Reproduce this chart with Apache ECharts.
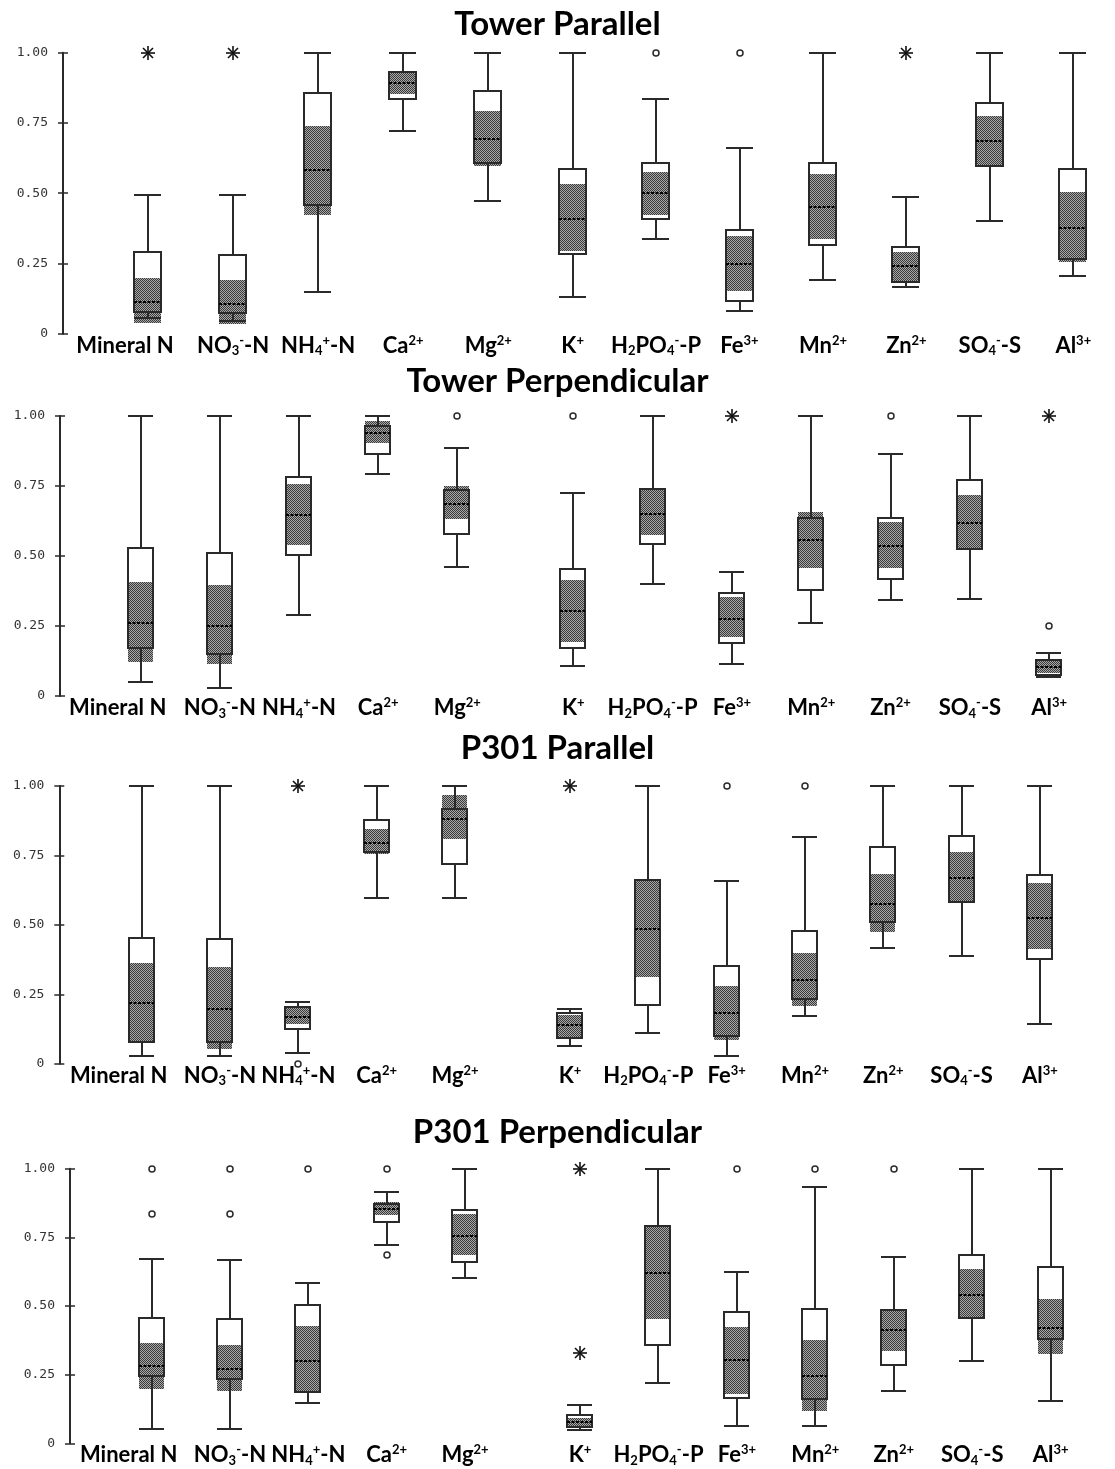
<!DOCTYPE html>
<html>
<head>
<meta charset="utf-8">
<script src="https://cdn.jsdelivr.net/npm/echarts@6/dist/echarts.min.js"></script>
<style>
  html, body { margin: 0; padding: 0; background: #fff; }
  #chart { width: 1115px; height: 1469px; }
</style>
</head>
<body>
<div id="chart"></div>
<script>
// Nutrient categories (plain names) and their rich-text labels
const categories = ['Mineral N', 'NO3-N', 'NH4-N', 'Ca', 'Mg', 'K', 'H2PO4-P', 'Fe', 'Mn', 'Zn', 'SO4-S', 'Al'];
const categoryLabels = [
  'Mineral N', 'NO{sub|3}{sup|-}-N', 'NH{sub|4}{sup|+}-N', 'Ca{sup|2+}', 'Mg{sup|2+}', 'K{sup|+}',
  'H{sub|2}PO{sub|4}{sup|-}-P', 'Fe{sup|3+}', 'Mn{sup|2+}', 'Zn{sup|2+}', 'SO{sub|4}{sup|-}-S', 'Al{sup|3+}'
];
const panelTitles = ['Tower Parallel', 'Tower Perpendicular', 'P301 Parallel', 'P301 Perpendicular'];
const yTickValues = [0, 0.25, 0.5, 0.75, 1];

// Box statistics per category: [min, Q1, median, Q3, max, ciLow, ciHigh]
const towerParallelStats = [
  [0.055, 0.078, 0.114, 0.289, 0.493, 0.037, 0.197],
  [0.046, 0.075, 0.106, 0.279, 0.493, 0.034, 0.191],
  [0.149, 0.458, 0.582, 0.858, 1.000, 0.422, 0.740],
  [0.722, 0.836, 0.891, 0.932, 1.000, 0.852, 0.932],
  [0.472, 0.606, 0.692, 0.865, 1.000, 0.597, 0.792],
  [0.129, 0.284, 0.409, 0.587, 1.000, 0.295, 0.533],
  [0.337, 0.409, 0.499, 0.609, 0.837, 0.422, 0.577],
  [0.082, 0.117, 0.248, 0.369, 0.661, 0.152, 0.348],
  [0.190, 0.316, 0.451, 0.607, 1.000, 0.338, 0.568],
  [0.165, 0.185, 0.242, 0.310, 0.486, 0.185, 0.292],
  [0.400, 0.597, 0.686, 0.821, 1.000, 0.597, 0.776],
  [0.206, 0.267, 0.377, 0.586, 1.000, 0.256, 0.504]
];
const towerParallelCircles = [['H2PO4-P', 1.0], ['Fe', 1.0]];
const towerParallelStars = [['Mineral N', 1.0], ['NO3-N', 1.0], ['Zn', 1.0]];

const towerPerpStats = [
  [0.051, 0.170, 0.260, 0.530, 1.000, 0.123, 0.406],
  [0.030, 0.149, 0.249, 0.511, 1.000, 0.113, 0.395],
  [0.290, 0.505, 0.645, 0.781, 1.000, 0.539, 0.756],
  [0.792, 0.863, 0.939, 0.963, 1.000, 0.904, 0.982],
  [0.462, 0.577, 0.687, 0.735, 0.885, 0.633, 0.750],
  [0.108, 0.170, 0.302, 0.452, 0.724, 0.194, 0.414],
  [0.400, 0.542, 0.650, 0.740, 1.000, 0.575, 0.736],
  [0.114, 0.190, 0.276, 0.369, 0.443, 0.210, 0.355],
  [0.260, 0.379, 0.557, 0.635, 1.000, 0.456, 0.657],
  [0.343, 0.419, 0.537, 0.636, 0.863, 0.456, 0.623],
  [0.348, 0.524, 0.619, 0.771, 1.000, 0.524, 0.718],
  [0.067, 0.075, 0.105, 0.129, 0.155, 0.081, 0.129]
];
const towerPerpCircles = [['Mg', 1.0], ['K', 1.0], ['Zn', 1.0], ['Al', 0.25]];
const towerPerpStars = [['Fe', 1.0], ['Al', 1.0]];

const p301ParallelStats = [
  [0.029, 0.077, 0.217, 0.453, 1.000, 0.077, 0.364],
  [0.029, 0.079, 0.198, 0.448, 1.000, 0.052, 0.347],
  [0.040, 0.126, 0.167, 0.203, 0.222, 0.143, 0.203],
  [0.595, 0.762, 0.796, 0.878, 1.000, 0.754, 0.844],
  [0.595, 0.719, 0.882, 0.918, 1.000, 0.809, 0.966],
  [0.065, 0.091, 0.138, 0.181, 0.198, 0.097, 0.175],
  [0.112, 0.211, 0.484, 0.661, 1.000, 0.313, 0.661],
  [0.029, 0.100, 0.181, 0.351, 0.657, 0.085, 0.281],
  [0.173, 0.234, 0.300, 0.478, 0.815, 0.209, 0.400],
  [0.417, 0.509, 0.576, 0.779, 1.000, 0.474, 0.684],
  [0.387, 0.583, 0.667, 0.820, 1.000, 0.577, 0.761],
  [0.142, 0.377, 0.525, 0.678, 1.000, 0.412, 0.649]
];
const p301ParallelCircles = [['NH4-N', 0.0], ['Fe', 1.0], ['Mn', 1.0]];
const p301ParallelStars = [['NH4-N', 1.0], ['K', 1.0]];

const p301PerpStats = [
  [0.051, 0.245, 0.280, 0.458, 0.671, 0.197, 0.364],
  [0.051, 0.233, 0.269, 0.453, 0.666, 0.192, 0.358],
  [0.146, 0.186, 0.301, 0.504, 0.583, 0.186, 0.427],
  [0.723, 0.807, 0.853, 0.871, 0.916, 0.830, 0.877],
  [0.603, 0.660, 0.755, 0.848, 1.000, 0.686, 0.835],
  [0.049, 0.058, 0.076, 0.103, 0.141, 0.055, 0.091],
  [0.218, 0.358, 0.620, 0.791, 1.000, 0.451, 0.791],
  [0.062, 0.165, 0.303, 0.479, 0.624, 0.180, 0.422],
  [0.062, 0.160, 0.245, 0.489, 0.932, 0.119, 0.376],
  [0.192, 0.285, 0.411, 0.485, 0.677, 0.337, 0.485],
  [0.301, 0.456, 0.541, 0.687, 1.000, 0.456, 0.635],
  [0.155, 0.379, 0.421, 0.641, 1.000, 0.325, 0.525]
];
const p301PerpCircles = [
  ['Mineral N', 1.0], ['Mineral N', 0.834], ['NO3-N', 1.0], ['NO3-N', 0.834], ['NH4-N', 1.0],
  ['Ca', 1.0], ['Ca', 0.687], ['Fe', 1.0], ['Mn', 1.0], ['Zn', 1.0]
];
const p301PerpStars = [['K', 1.0], ['K', 0.330]];

const panels = [
  { title: panelTitles[0], stats: towerParallelStats, circles: towerParallelCircles, stars: towerParallelStars },
  { title: panelTitles[1], stats: towerPerpStats, circles: towerPerpCircles, stars: towerPerpStars },
  { title: panelTitles[2], stats: p301ParallelStats, circles: p301ParallelCircles, stars: p301ParallelStars },
  { title: panelTitles[3], stats: p301PerpStats, circles: p301PerpCircles, stars: p301PerpStars }
];

// Page layout: each panel has a left block (first five nutrients) and a right block (the rest)
const layout = [
  { titleTop: 4,    top: 52.7,   height: 281,   axisX: 63,   leftBlock: [105.5, 425.3], rightBlock: [530.9, 593.8] },
  { titleTop: 361,  top: 416,    height: 280,   axisX: 60,   leftBlock: [101.1, 395.8], rightBlock: [533.6, 555.3] },
  { titleTop: 728,  top: 786,    height: 277.7, axisX: 59.3, leftBlock: [102.5, 391.7], rightBlock: [530.8, 548.3] },
  { titleTop: 1112, top: 1168.7, height: 274.6, axisX: 70,   leftBlock: [112.5, 391.7], rightBlock: [540.8, 549.1] }
];
const halves = [[0, 5], [5, 12]];

const INK = '#2a2a2a';
const FONT = 'Lato';

// stippled fill used for the median confidence band
function makeStipple() {
  const c = document.createElement('canvas');
  c.width = 2; c.height = 2;
  const g = c.getContext('2d');
  g.fillStyle = '#a8a8a8'; g.fillRect(0, 0, 2, 2);
  g.fillStyle = '#3a3a3a'; g.fillRect(0, 0, 1, 1); g.fillRect(1, 1, 1, 1);
  return c;
}
const stippleFill = { image: makeStipple(), repeat: 'repeat' };

const px = v => Math.round(v);

function renderBox(params, api) {
  const i = api.value(0);
  const lo = api.value(1), q1 = api.value(2), med = api.value(3), q3 = api.value(4), hi = api.value(5);
  const ciLo = api.value(6), ciHi = api.value(7);
  const y = v => px(api.coord([i, v])[1]);
  const cx = px(api.coord([i, med])[0]);
  const w = px(api.size([1, 0])[0] * 0.32);
  const x0 = cx - Math.round(w / 2), x1 = x0 + w;
  const line = { stroke: INK, lineWidth: 2 };
  const box = { x: x0, y: y(q3), width: w, height: y(q1) - y(q3) };
  return {
    type: 'group',
    children: [
      { type: 'rect', shape: box, style: { fill: '#fff' } },
      { type: 'rect', shape: { x: x0, y: y(ciHi), width: w, height: y(ciLo) - y(ciHi) }, style: { fill: stippleFill } },
      { type: 'rect', shape: box, style: { fill: 'none', stroke: INK, lineWidth: 2 } },
      { type: 'line', shape: { x1: cx, y1: y(q3), x2: cx, y2: y(hi) }, style: line },
      { type: 'line', shape: { x1: x0, y1: y(hi), x2: x1, y2: y(hi) }, style: line },
      { type: 'line', shape: { x1: cx, y1: y(q1), x2: cx, y2: y(lo) }, style: line },
      { type: 'line', shape: { x1: x0, y1: y(lo), x2: x1, y2: y(lo) }, style: line },
      { type: 'line', shape: { x1: x0, y1: y(med), x2: x1, y2: y(med) },
        style: { stroke: '#000', lineWidth: 2, lineDash: [3, 1.5] } }
    ]
  };
}

function renderCircle(params, api) {
  const p = api.coord([api.value(0), api.value(1)]);
  return { type: 'circle', shape: { cx: px(p[0]), cy: px(p[1]), r: 3 },
           style: { fill: '#fff', stroke: INK, lineWidth: 1.5 } };
}

function renderStar(params, api) {
  const p = api.coord([api.value(0), api.value(1)]);
  const cx = px(p[0]), cy = px(p[1]), r = 7, d = 5;
  const st = { stroke: '#111', lineWidth: 1.6 };
  return {
    type: 'group',
    children: [
      { type: 'line', shape: { x1: cx - r, y1: cy, x2: cx + r, y2: cy }, style: st },
      { type: 'line', shape: { x1: cx, y1: cy - r, x2: cx, y2: cy + r }, style: st },
      { type: 'line', shape: { x1: cx - d, y1: cy - d, x2: cx + d, y2: cy + d }, style: st },
      { type: 'line', shape: { x1: cx - d, y1: cy + d, x2: cx + d, y2: cy - d }, style: st }
    ]
  };
}

const labelRich = {
  sup: { fontFamily: FONT, fontWeight: 'bold', fontSize: 13, lineHeight: 14, padding: [0, 0, 10, 0], color: '#000' },
  sub: { fontFamily: FONT, fontWeight: 'bold', fontSize: 13, lineHeight: 14, padding: [11, 0, 0, 0], color: '#000' },
  pad: { width: 46, fontSize: 10 }
};

const option = {
  animation: false,
  backgroundColor: '#fff',
  title: [], grid: [], xAxis: [], yAxis: [], series: []
};

const tickAxes = [];
panels.forEach((panel, p) => {
  const L = layout[p];
  option.title.push({
    text: panel.title, left: 'center', top: L.titleTop, padding: 0,
    textStyle: { fontFamily: FONT, fontWeight: 'bold', fontSize: 33, lineHeight: 40, color: '#000' }
  });
  halves.forEach(([s, e], h) => {
    const g = p * 2 + h;
    const block = h === 0 ? L.leftBlock : L.rightBlock;
    option.grid.push({ left: block[0], width: block[1], top: L.top, height: L.height, containLabel: false });
    const names = categories.slice(s, e);
    option.xAxis.push({
      type: 'category', gridIndex: g, data: names, boundaryGap: true,
      axisLine: { show: false }, axisTick: { show: false }, splitLine: { show: false },
      axisLabel: {
        interval: 0, margin: 0, fontFamily: FONT, fontWeight: 'bold', fontSize: 22, lineHeight: 24, color: '#000',
        rich: labelRich,
        formatter: (value) => {
          const k = categories.indexOf(value);
          return categoryLabels[k] + (k === 0 ? '{pad| }' : '');
        }
      }
    });
    const offset = L.leftBlock[0] - L.axisX;
    option.yAxis.push({
      type: 'value', gridIndex: g, min: 0, max: 1, interval: 0.25, show: h === 0, offset: offset,
      splitLine: { show: false },
      axisLine: { show: true, lineStyle: { color: INK, width: 2 } },
      axisTick: { show: true, length: 5, lineStyle: { color: INK, width: 1.5 } },
      axisLabel: {
        margin: 15, fontFamily: 'DejaVu Sans Mono', fontSize: 13, color: '#333',
        formatter: v => (yTickValues.indexOf(v) === 0 ? '0' : v.toFixed(2))
      }
    });
    if (h === 0) {
      tickAxes.push({
        type: 'value', gridIndex: g, min: 0, max: 1, interval: 0.25, position: 'left', offset: offset,
        axisLine: { show: false }, axisLabel: { show: false }, splitLine: { show: false },
        axisTick: { show: true, inside: true, length: 5, lineStyle: { color: INK, width: 1.5 } }
      });
    }
    const boxData = panel.stats.slice(s, e).map((row, i) => [i].concat(row));
    const pick = list => list
      .map(([name, v]) => [categories.indexOf(name), v])
      .filter(([k]) => k >= s && k < e)
      .map(([k, v]) => [k - s, v]);
    option.series.push(
      { type: 'custom', xAxisIndex: g, yAxisIndex: g, data: boxData, renderItem: renderBox, clip: false, z: 2 },
      { type: 'custom', xAxisIndex: g, yAxisIndex: g, data: pick(panel.circles), renderItem: renderCircle, clip: false, z: 3 },
      { type: 'custom', xAxisIndex: g, yAxisIndex: g, data: pick(panel.stars), renderItem: renderStar, clip: false, z: 3 }
    );
  });
});
option.yAxis = option.yAxis.concat(tickAxes);

const chart = echarts.init(document.getElementById('chart'), null, { renderer: 'canvas' });
chart.setOption(option);
</script>
</body>
</html>
